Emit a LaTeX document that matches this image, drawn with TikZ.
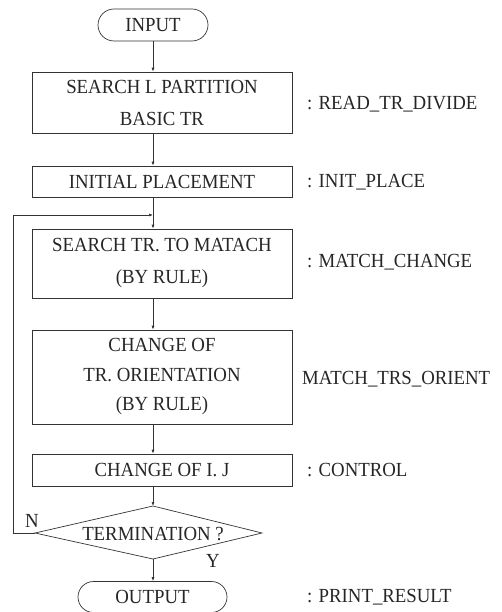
\documentclass[tikz,border=0pt]{standalone}
\usepackage{fontspec}
\setmainfont[FakeStretch=0.94]{Liberation Serif}
\usetikzlibrary{shapes.misc,arrows.meta}
\begin{document}
\begin{tikzpicture}[x=1pt,y=-1pt,
  every node/.style={font=\fontsize{20}{32}\selectfont, text=black!85},
  box/.style={draw=black!80, line width=0.7pt, minimum width=260pt, inner sep=0pt, align=center},
  term/.style={draw=black!80, line width=0.7pt, rounded rectangle, inner sep=0pt},
  lab/.style={anchor=west, inner sep=0pt},
  edge/.style={draw=black!80, line width=0.7pt},
  flow/.style={draw=black!80, line width=0.7pt, -{Latex[length=4pt,width=3pt]}}]
\useasboundingbox (0,0) rectangle (502,612);
\node[term, minimum width=110pt, minimum height=32pt] (in) at (153,25) {INPUT};
\node[box, minimum height=61pt] (b1) at (162,102.5) {SEARCH L PARTITION\\BASIC TR};
\node[box, minimum height=31pt] (b2) at (162,181.5) {INITIAL PLACEMENT};
\node[box, minimum height=69pt] (b3) at (162,263.5) {SEARCH TR. TO MATACH\\(BY RULE)};
\node[box, minimum height=94pt, font=\fontsize{20}{29.5}\selectfont] (b4) at (162,377) {CHANGE OF\\TR. ORIENTATION\\(BY RULE)};
\node[box, minimum height=32pt] (b5) at (162,470) {CHANGE OF I. J};
\coordinate (dt) at (153,506);
\coordinate (db) at (153,559);
\coordinate (dl) at (35,533);
\coordinate (dr) at (262,533);
\draw[edge] (dt) -- (dr) -- (db) -- (dl) -- cycle;
\node[inner sep=0pt] (d) at (153,534) {TERMINATION ?};
\node[term, minimum width=149pt, minimum height=31pt] (out) at (152.5,597) {OUTPUT};
\coordinate (j) at (153,215);
\coordinate (lc) at (13,533);
\coordinate (lt) at (13,215);
\draw[flow] (in.south) -- (in.south |- b1.north);
\draw[flow] (b1.south -| in.south) -- (in.south |- b2.north);
\draw[flow] (b2.south -| in.south) -- (in.south |- b3.north);
\draw[flow] (b3.south -| in.south) -- (in.south |- b4.north);
\draw[flow] (b4.south -| in.south) -- (in.south |- b5.north);
\draw[flow] (b5.south -| in.south) -- (dt);
\draw[flow] (db) -- (db |- out.north);
\draw[flow] (dl) -- (lc) -- (lt) -- (j);
\node[inner sep=0pt] (n) at (32,521) {N};
\node[inner sep=0pt] (y) at (213,561) {Y};
\node[lab] (l1) at (307,104) {: READ\_TR\_DIVIDE};
\node[lab] (l2) at (307,182) {: INIT\_PLACE};
\node[lab] (l3) at (307,262) {: MATCH\_CHANGE};
\node[lab] (l4) at (302,379) {MATCH\_TRS\_ORIENT};
\node[lab] (l5) at (307,470) {: CONTROL};
\node[lab] (l6) at (307,597) {: PRINT\_RESULT};
\end{tikzpicture}
\end{document}
